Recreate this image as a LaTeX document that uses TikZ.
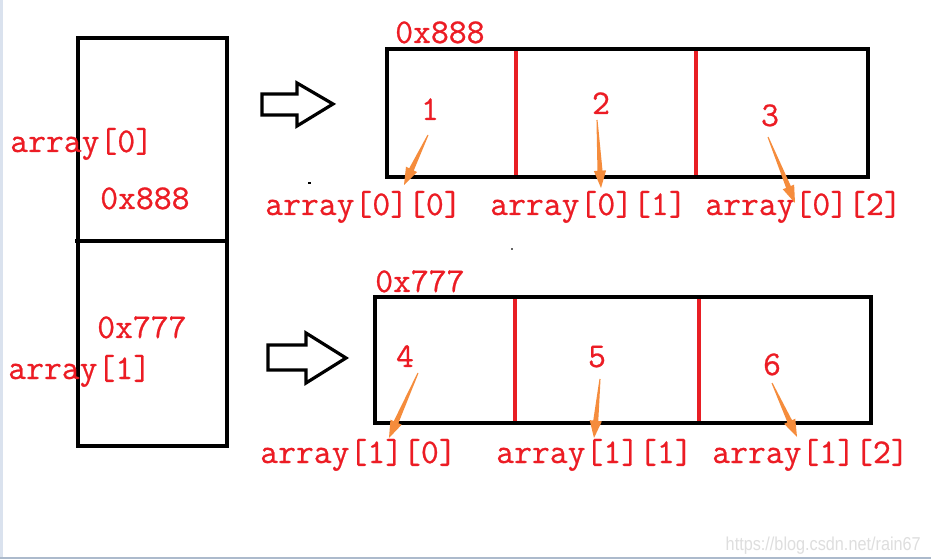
\documentclass[tikz,border=0pt]{standalone}
\usepackage{fontspec}
\usepackage{graphicx}
\usetikzlibrary{calc}
\definecolor{txtred}{RGB}{236,28,36}
\definecolor{linered}{RGB}{232,30,36}
\definecolor{arrorange}{RGB}{245,140,60}
\definecolor{edgeblue}{RGB}{218,226,238}
\definecolor{edgegray}{RGB}{172,186,204}
\definecolor{wmgray}{RGB}{222,222,222}
\newfontfamily\wmfont{Liberation Sans}
\newfontfamily\redmono[FakeBold=0.7]{Latin Modern Mono}
\tikzset{
  redtxt/.style={text=txtred, inner sep=0pt, font=\redmono\fontsize{26}{27}\selectfont},
  boxline/.style={draw=black, line width=2.6pt},
  divline/.style={draw=linered, line width=2.4pt},
  blockarrow/.style={draw=black, line width=2.4pt, line join=miter, fill=white},
  orfill/.style={fill=arrorange}
}
\newcommand\orangearrow[2]{%
  \fill[orfill]
    ($(#1)!0.4pt!90:(#2)$) --
    ($($(#2)!13pt!(#1)$)!1.9pt!90:(#2)$) --
    ($($(#2)!13pt!(#1)$)!4.6pt!90:(#2)$) --
    (#2) --
    ($($(#2)!13pt!(#1)$)!4.6pt!-90:(#2)$) --
    ($($(#2)!13pt!(#1)$)!1.9pt!-90:(#2)$) --
    ($(#1)!0.4pt!-90:(#2)$) -- cycle;}
\begin{document}
\begin{tikzpicture}[x=0.75pt,y=-0.75pt]
\useasboundingbox (0,0) rectangle (931,559);
\fill[white] (0,0) rectangle (931,559);
% page edges
\fill[edgeblue] (0,0) rectangle (2.5,559);
\fill[edgegray] (0,556.5) rectangle (931,559);

% left pointer array
\draw[boxline] (78,38) rectangle (227,446);
\draw[boxline] (75,241) -- (229,241);
\node[redtxt, anchor=base west] (l0) at (10,152) {array[0]};
\node[redtxt, anchor=base west] (p0) at (100,209) {0x888};
\node[redtxt, anchor=base west] (p1) at (97,338) {0x777};
\node[redtxt, anchor=base west] (l1) at (8,379) {array[1]};

% block arrows
\draw[blockarrow] (262,94) -- (297,94) -- (297,83) -- (333,104) -- (297,126) -- (297,115) -- (262,115) -- cycle;
\draw[blockarrow] (268,345) -- (306,345) -- (306,333) -- (346,358) -- (306,383) -- (306,370) -- (268,370) -- cycle;

% top row
\draw[divline] (516,49) -- (516,177);
\draw[divline] (696,49) -- (696,177);
\draw[boxline] (387,49) rectangle (868,177);
\node[redtxt, anchor=base west] (t0) at (395,43) {0x888};
\node[redtxt, anchor=base] (n1) at (430,120) {1};
\node[redtxt, anchor=base] (n2) at (601,114) {2};
\node[redtxt, anchor=base] (n3) at (770,126) {3};
\node[redtxt, anchor=base west] (e00) at (265,215) {array[0][0]};
\node[redtxt, anchor=base west] (e01) at (490,215) {array[0][1]};
\node[redtxt, anchor=base west] (e02) at (705,215) {array[0][2]};

% bottom row
\draw[divline] (515,297) -- (515,423);
\draw[divline] (699,297) -- (699,423);
\draw[boxline] (375,297) rectangle (871,423);
\node[redtxt, anchor=base west] (t1) at (375,292) {0x777};
\node[redtxt, anchor=base] (n4) at (405,367) {4};
\node[redtxt, anchor=base] (n5) at (597,367) {5};
\node[redtxt, anchor=base] (n6) at (772,375) {6};
\node[redtxt, anchor=base west] (e10) at (260,463) {array[1][0]};
\node[redtxt, anchor=base west] (e11) at (496,463) {array[1][1]};
\node[redtxt, anchor=base west] (e12) at (712,463) {array[1][2]};

% orange pointers
\coordinate (s1) at (428,135); \coordinate (d1) at (404,185);
\coordinate (s2) at (597,120); \coordinate (d2) at (601,188);
\coordinate (s3) at (768,137); \coordinate (d3) at (795,203);
\coordinate (s4) at (418,373); \coordinate (d4) at (389,438);
\coordinate (s5) at (600,379); \coordinate (d5) at (594,438);
\coordinate (s6) at (772,383); \coordinate (d6) at (797,437);
\orangearrow{s1}{d1}
\orangearrow{s2}{d2}
\orangearrow{s3}{d3}
\orangearrow{s4}{d4}
\orangearrow{s5}{d5}
\orangearrow{s6}{d6}

% stray dots
\fill[black] (307.5,182) rectangle (310.5,184);
\fill[black!60] (511,248.5) rectangle (513,250);

% watermark
\node[anchor=base east, inner sep=0pt, text=wmgray] (wm) at (921,550)
  {\scalebox{0.87}[1]{\wmfont\fontsize{14}{16}\selectfont https://blog.csdn.net/rain67}};
\end{tikzpicture}
\end{document}
